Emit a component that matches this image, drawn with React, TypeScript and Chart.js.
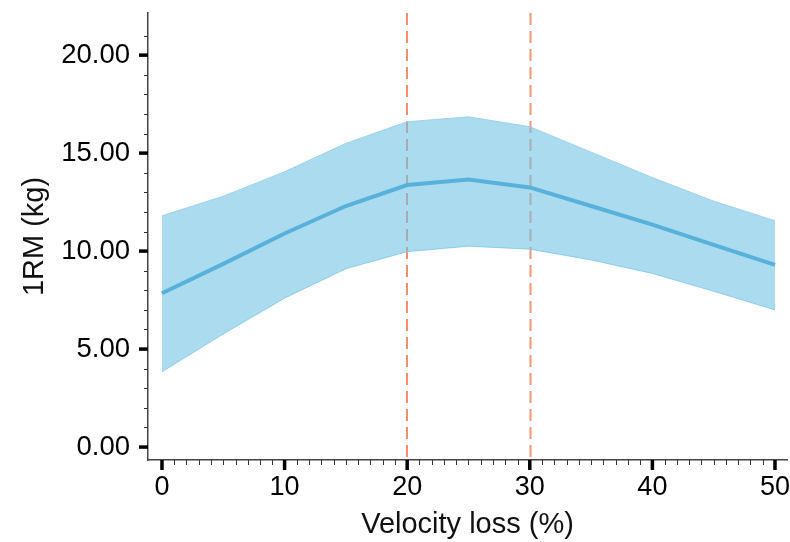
import React, { useEffect, useRef } from "react";
import { Chart, registerables } from "chart.js";

Chart.register(...registerables);

// ---- data ----
const velocityLoss = [0, 5, 10, 15, 20, 25, 30, 35, 40, 45, 50];
const mean1RM = [7.85, 9.35, 10.9, 12.3, 13.37, 13.65, 13.25, 12.3, 11.35, 10.32, 9.3];
const upper1RM = [11.8, 12.8, 14.05, 15.5, 16.6, 16.85, 16.35, 15.05, 13.75, 12.55, 11.55];
const lower1RM = [3.84, 5.77, 7.6, 9.1, 9.97, 10.25, 10.1, 9.55, 8.86, 7.95, 7.0];

const xTickValues = [0, 10, 20, 30, 40, 50];
const yTickValues = [0, 5, 10, 15, 20];
const xMinorTicks = Array.from({ length: 51 }, (_, i) => i);
const yMinorTicks = Array.from({ length: 22 }, (_, i) => i);
const referenceLines = [20, 30];

const FONT = "'Liberation Sans', Arial, Helvetica, sans-serif";

const refLinePlugin = {
  id: "refLines",
  beforeDatasetsDraw(chart: any) {
    const { ctx, chartArea, scales } = chart;
    const x = scales.x;
    const styles = [
      { color: "#f2541f", width: 1.3, offset: 0 },
      { color: "#f2967a", width: 2, offset: 0.5 },
    ];
    referenceLines.forEach((v, i) => {
      const px = Math.round(x.getPixelForValue(v)) + styles[i].offset;
      ctx.save();
      ctx.strokeStyle = styles[i].color;
      ctx.lineWidth = styles[i].width;
      ctx.setLineDash([12, 6]);
      ctx.beginPath();
      ctx.moveTo(px, chartArea.top);
      ctx.lineTo(px, chartArea.bottom);
      ctx.stroke();
      ctx.restore();
    });
  },
};

const tickMarksPlugin = {
  id: "tickMarks",
  afterDraw(chart: any) {
    const { ctx, chartArea, scales } = chart;
    const x = scales.x;
    const y = scales.y;
    ctx.save();
    ctx.strokeStyle = "#333";
    ctx.lineWidth = 1;
    xMinorTicks.forEach((v) => {
      if (xTickValues.includes(v)) return;
      const px = Math.round(x.getPixelForValue(v)) + 0.5;
      ctx.beginPath();
      ctx.moveTo(px, chartArea.bottom);
      ctx.lineTo(px, chartArea.bottom + 5);
      ctx.stroke();
    });
    yMinorTicks.forEach((v) => {
      if (yTickValues.includes(v)) return;
      const py = Math.round(y.getPixelForValue(v)) + 0.5;
      ctx.beginPath();
      ctx.moveTo(chartArea.left - 4, py);
      ctx.lineTo(chartArea.left, py);
      ctx.stroke();
    });
    ctx.strokeStyle = "#000";
    ctx.lineWidth = 3.5;
    xTickValues.forEach((v) => {
      const px = x.getPixelForValue(v);
      ctx.beginPath();
      ctx.moveTo(px, chartArea.bottom);
      ctx.lineTo(px, chartArea.bottom + 10);
      ctx.stroke();
    });
    yTickValues.forEach((v) => {
      const py = y.getPixelForValue(v);
      ctx.beginPath();
      ctx.moveTo(chartArea.left - 9, py);
      ctx.lineTo(chartArea.left, py);
      ctx.stroke();
    });
    ctx.restore();
  },
};

export default function App() {
  const canvasRef = useRef<HTMLCanvasElement | null>(null);

  useEffect(() => {
    if (!canvasRef.current) return;
    const toXY = (ys: number[]) => velocityLoss.map((x, i) => ({ x, y: ys[i] }));
    const chart = new Chart(canvasRef.current, {
      type: "line",
      data: {
        datasets: [
          {
            label: "upper",
            data: toXY(upper1RM),
            borderColor: "rgba(150, 208, 232, 0.9)",
            borderWidth: 1,
            backgroundColor: "rgba(110, 193, 226, 0.58)",
            fill: "+1",
            pointRadius: 0,
            tension: 0,
          },
          {
            label: "lower",
            data: toXY(lower1RM),
            borderColor: "rgba(150, 208, 232, 0.9)",
            borderWidth: 1,
            fill: false,
            pointRadius: 0,
            tension: 0,
          },
          {
            label: "mean",
            data: toXY(mean1RM),
            borderColor: "#3b9bd0",
            borderWidth: 4,
            fill: false,
            pointRadius: 0,
            tension: 0,
          },
        ],
      },
      options: {
        animation: false,
        responsive: true,
        maintainAspectRatio: false,
        layout: { padding: { top: 13, right: 3, left: 0, bottom: 0 } },
        plugins: {
          legend: { display: false },
          tooltip: { enabled: false },
        },
        scales: {
          x: {
            type: "linear",
            min: -1.14,
            max: 50.98,
            afterBuildTicks: (scale: any) => {
              scale.ticks = xTickValues.map((v) => ({ value: v }));
            },
            afterFit: (scale: any) => {
              scale.height = 82;
              scale.paddingLeft = 0;
              scale.paddingRight = 0;
            },
            grid: { display: false, drawTicks: false },
            border: { display: true, color: "#444", width: 1.5 },
            ticks: {
              autoSkip: false,
              maxRotation: 0,
              padding: 11,
              color: "#000",
              font: { family: FONT, size: 27 },
              callback: (v: any) => String(v),
            },
            title: {
              display: true,
              text: "Velocity loss (%)",
              color: "#111",
              font: { family: FONT, size: 29 },
              padding: { top: 0, bottom: 0 },
            },
          },
          y: {
            type: "linear",
            min: -0.66,
            max: 22.15,
            afterBuildTicks: (scale: any) => {
              scale.ticks = yTickValues.map((v) => ({ value: v }));
            },
            afterFit: (scale: any) => {
              scale.width = 148;
              scale.paddingTop = 0;
              scale.paddingBottom = 0;
            },
            grid: { display: false, drawTicks: false },
            border: { display: true, color: "#444", width: 1.5 },
            ticks: {
              autoSkip: false,
              padding: 18,
              color: "#000",
              font: { family: FONT, size: 27.5 },
              callback: (v: any) => Number(v).toFixed(2),
            },
            title: {
              display: true,
              text: "1RM (kg)",
              color: "#111",
              font: { family: FONT, size: 29 },
              padding: { top: 18, bottom: 0 },
            },
          },
        },
      },
      plugins: [refLinePlugin, tickMarksPlugin],
    });
    return () => chart.destroy();
  }, []);

  return (
    <div style={{ position: "absolute", left: 0, top: 0, width: 790, height: 542, background: "#fff" }}>
      <canvas ref={canvasRef} />
    </div>
  );
}
